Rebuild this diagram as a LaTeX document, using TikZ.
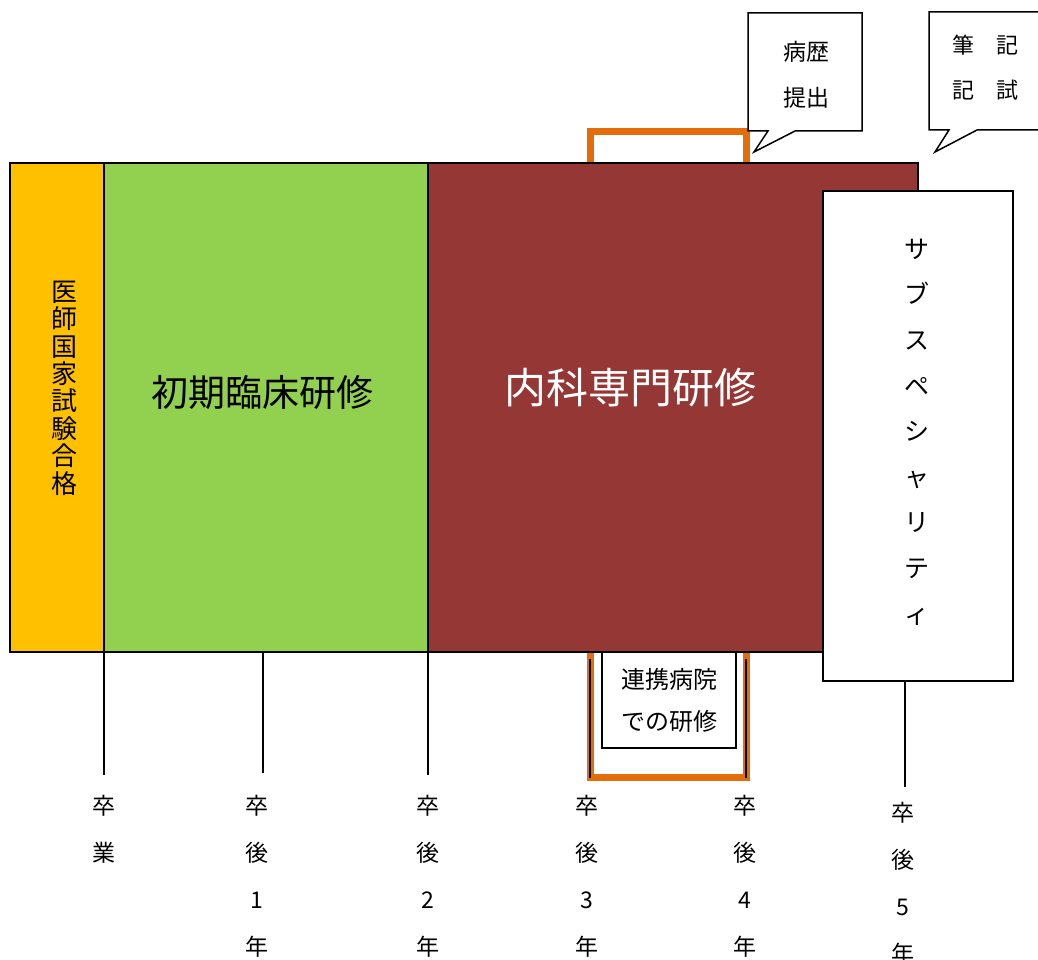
\documentclass[tikz,border=0pt]{standalone}
\usepackage{fontspec}
\setmainfont{Noto Sans CJK JP}
\definecolor{examorange}{HTML}{FFC000}
\definecolor{initgreen}{HTML}{92D050}
\definecolor{intmaroon}{HTML}{953735}
\definecolor{bracketorange}{HTML}{E46C0A}
\begin{document}
\begin{tikzpicture}[x=1pt,y=-1pt,
  blk/.style={draw=black, line width=1.5pt, inner sep=0pt, outer sep=0pt, anchor=north west},
  brk/.style={draw=bracketorange, line width=7pt},
  tickline/.style={draw=black, line width=1.5pt},
  yr/.style={align=center, font=\fontsize{23}{47}\selectfont, anchor=north, inner sep=0pt},
  lbl/.style={inner sep=0pt, align=center}
]
\useasboundingbox (0,0) rectangle (1038,960);
\clip (0,0) rectangle (1038,960);

% brackets (behind the main blocks)
\draw[brk] (590.5,163) -- (590.5,131.5) -- (746,131.5) -- (746,163);
\draw[brk] (590,652) -- (590,777.5) -- (746.5,777.5) -- (746.5,652);

% blocks
\node[blk, fill=initgreen, minimum width=340pt, minimum height=489pt] (shoki) at (104,163) {};
\node[blk, fill=examorange, minimum width=94pt, minimum height=489pt] (exam) at (10,163) {};
\node[blk, fill=intmaroon, minimum width=490pt, minimum height=489pt] (naika) at (428,163) {};
\node[blk, fill=white, minimum width=190pt, minimum height=490pt] (sub) at (823,191) {};
\node[blk, fill=white, minimum width=134pt, minimum height=96pt] (renkei) at (602,652) {};

% texts
\node[lbl, font=\fontsize{26}{27.4}\selectfont] (examtxt) at (64,388) {医\\師\\国\\家\\試\\験\\合\\格};
\node[lbl, font=\fontsize{37}{40}\selectfont] (shokitxt) at (262,392) {初期臨床研修};
\node[lbl, font=\fontsize{42}{45}\selectfont, text=white] (naikatxt) at (630,388) {内科専門研修};
\node[lbl, font=\fontsize{25}{45.6}\selectfont] (subtxt) at (917,432) {サ\\ブ\\ス\\ペ\\シ\\ャ\\リ\\テ\\ィ};
\node[lbl, font=\fontsize{24}{42}\selectfont] (renkeitxt) at (669,700) {連携病院\\での研修};

% callouts
\draw[line width=1.5pt, fill=white] (748,13) -- (862,13) -- (862,131) -- (795,131) -- (754,152) -- (768,131) -- (748,131) -- cycle;
\node[lbl, font=\fontsize{23}{46}\selectfont] (byoreki) at (806,75) {病歴\\提出};
\draw[line width=1.5pt, fill=white] (929,12) -- (1048,12) -- (1048,130) -- (977,130) -- (935,152) -- (949,130) -- (929,130) -- cycle;
\node[lbl, font=\fontsize{22}{45}\selectfont] (hikki) at (985,68) {筆　記\\記　試};

% ticks
\coordinate (t0) at (104,775);
\coordinate (t1) at (263,773);
\coordinate (t2) at (428,775);
\coordinate (t3a) at (590,659);
\coordinate (t3) at (590,778);
\coordinate (t4a) at (746,659);
\coordinate (t4) at (746,778);
\coordinate (t5) at (905,787);
\draw[tickline] (exam.south east) -- (t0);
\draw[tickline] (shoki.south west -| t1) -- (t1);
\draw[tickline] (naika.south west) -- (t2);
\draw[tickline] (t3a) -- (t3);
\draw[tickline] (t4a) -- (t4);
\draw[tickline] (sub.south -| t5) -- (t5);

% year labels
\node[yr] (y0) at (104,795) {卒\\業};
\node[yr] (y1) at (257,795) {卒\\後\\1\\年};
\node[yr] (y2) at (428,795) {卒\\後\\2\\年};
\node[yr] (y3) at (587,795) {卒\\後\\3\\年};
\node[yr] (y4) at (745,795) {卒\\後\\4\\年};
\node[yr] (y5) at (903,802) {卒\\後\\5\\年};
\end{tikzpicture}
\end{document}
